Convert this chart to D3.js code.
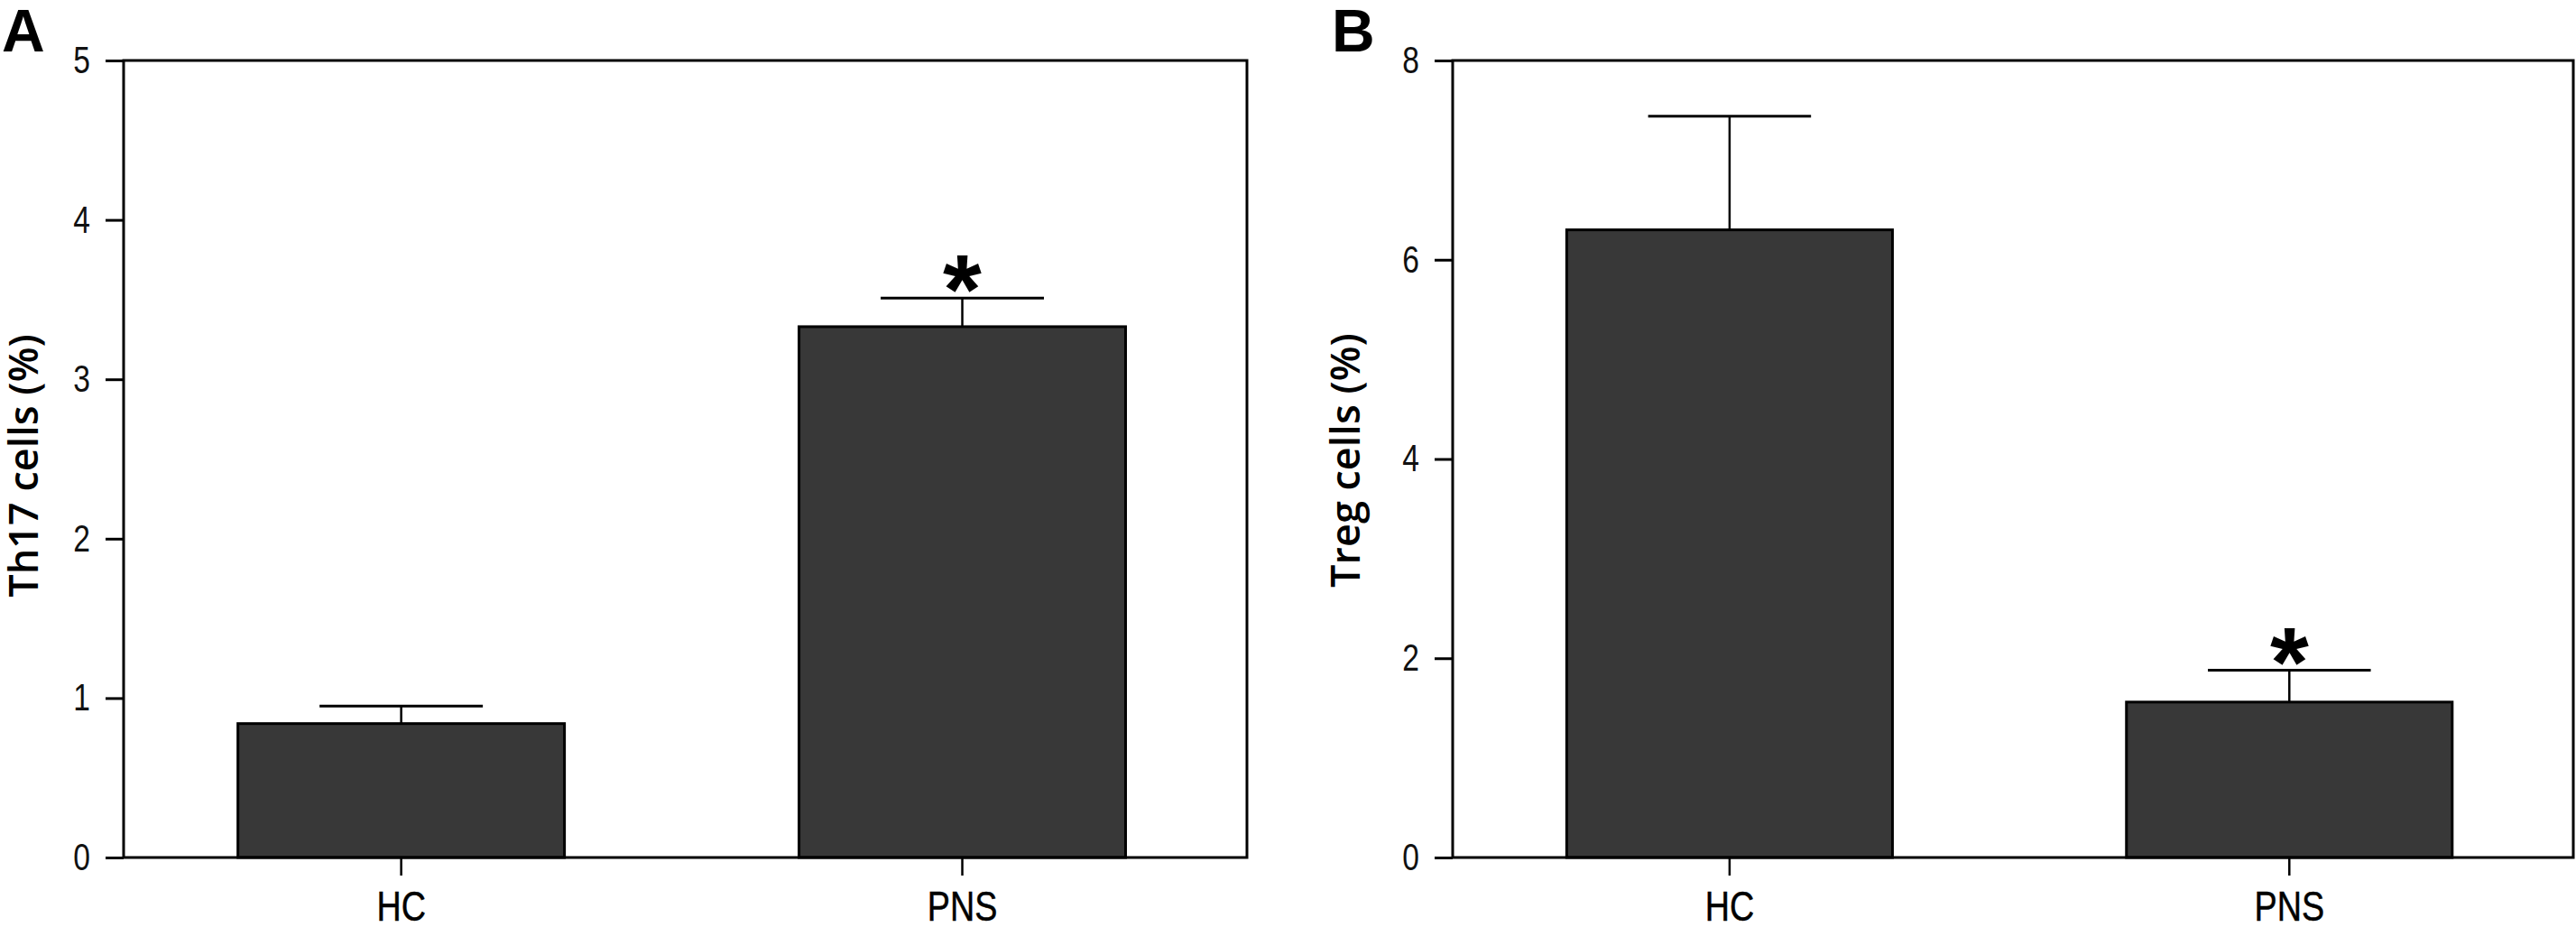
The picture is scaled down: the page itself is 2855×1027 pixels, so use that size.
<!DOCTYPE html>
<html>
<head>
<meta charset="utf-8">
<script src="https://cdn.jsdelivr.net/npm/d3@7"></script>
<style>
  html, body { margin: 0; padding: 0; background: #fff; }
  svg { display: block; }
</style>
</head>
<body>
<svg id="chart" width="2855" height="1027"></svg>
<script>
// ---- data ----
const categories = ["HC", "PNS"];
const th17Means = [0.84, 3.33];
const th17Errors = [0.11, 0.18];
const tregMeans = [6.30, 1.56];
const tregErrors = [1.14, 0.32];
const th17Ticks = [0, 1, 2, 3, 4, 5];
const tregTicks = [0, 2, 4, 6, 8];
const th17Signif = ["", "*"];
const tregSignif = ["", "*"];

const svg = d3.select("#chart");

const panels = [
  { letter: "A", label: "Th17 cells (%)", means: th17Means, errors: th17Errors,
    ticks: th17Ticks, yMax: 5, signif: th17Signif,
    x0: 137, x1: 1382, letterX: 2, labelX: 42, labelY: 516 },
  { letter: "B", label: "Treg cells (%)", means: tregMeans, errors: tregErrors,
    ticks: tregTicks, yMax: 8, signif: tregSignif,
    x0: 1610, x1: 2852, letterX: 1476, labelX: 1507, labelY: 510 }
];

const plotTop = 67, plotBottom = 950;
const yTickSx = 0.8, xTickSx = 0.82;

panels.forEach(p => {
  const g = svg.append("g");
  const x = d3.scaleBand().domain(categories).range([p.x0, p.x1])
    .paddingInner(0.418).paddingOuter(0.21).align(0.485);
  const y = d3.scaleLinear().domain([0, p.yMax]).range([plotBottom, plotTop]);

  const data = categories.map((c, i) => ({ c, m: p.means[i], e: p.errors[i], s: p.signif[i] }));

  // bars
  g.selectAll("rect.bar").data(data).join("rect")
    .attr("class", "bar")
    .attr("x", d => x(d.c))
    .attr("y", d => y(d.m))
    .attr("width", x.bandwidth())
    .attr("height", d => y(0) - y(d.m))
    .attr("fill", "#383838")
    .attr("stroke", "#000")
    .attr("stroke-width", 3);

  // error bars
  const cx = d => x(d.c) + x.bandwidth() / 2;
  const capHalf = x.bandwidth() / 4;
  g.selectAll("line.err").data(data).join("line")
    .attr("class", "err")
    .attr("x1", cx).attr("x2", cx)
    .attr("y1", d => y(d.m)).attr("y2", d => y(d.m + d.e))
    .attr("stroke", "#000").attr("stroke-width", 2.5);
  g.selectAll("line.cap").data(data).join("line")
    .attr("class", "cap")
    .attr("x1", d => cx(d) - capHalf).attr("x2", d => cx(d) + capHalf)
    .attr("y1", d => y(d.m + d.e)).attr("y2", d => y(d.m + d.e))
    .attr("stroke", "#000").attr("stroke-width", 3);

  // significance stars
  g.selectAll("text.sig").data(data.filter(d => d.s)).join("text")
    .attr("class", "sig")
    .attr("x", cx)
    .attr("y", d => y(d.m + d.e) - 18)
    .attr("text-anchor", "middle")
    .attr("font-family", "Liberation Sans, Arial, sans-serif")
    .attr("font-weight", "bold")
    .attr("font-size", 110)
    .attr("dy", "0.42em")
    .text(d => d.s);

  // y axis
  const yAxis = g.append("g")
    .attr("transform", `translate(${p.x0},0)`)
    .call(d3.axisLeft(y).tickValues(p.ticks).tickSize(20).tickPadding(17).tickFormat(d3.format("d")));
  yAxis.select(".domain").remove();
  yAxis.selectAll(".tick line").attr("stroke", "#000").attr("stroke-width", 3);
  yAxis.selectAll(".tick text")
    .attr("font-family", "Liberation Sans, Arial, sans-serif")
    .attr("font-size", 42).attr("fill", "#111")
    .attr("x", -37 / yTickSx)
    .attr("transform", `scale(${yTickSx},1)`);

  // x axis
  const xAxis = g.append("g")
    .attr("transform", `translate(0,${plotBottom})`)
    .call(d3.axisBottom(x).tickSize(20).tickPadding(17));
  xAxis.select(".domain").remove();
  xAxis.selectAll(".tick line").attr("stroke", "#000").attr("stroke-width", 2.5);
  xAxis.selectAll(".tick text")
    .attr("font-family", "Liberation Sans, Arial, sans-serif")
    .attr("font-size", 46).attr("fill", "#000")
    .attr("stroke", "#000").attr("stroke-width", 0.5)
    .attr("transform", `scale(${xTickSx},1)`);

  // box frame
  g.append("rect")
    .attr("x", p.x0).attr("y", plotTop)
    .attr("width", p.x1 - p.x0).attr("height", plotBottom - plotTop)
    .attr("fill", "none").attr("stroke", "#000").attr("stroke-width", 3);

  // y label
  g.append("text")
    .attr("transform", `translate(${p.labelX},${p.labelY}) rotate(-90)`)
    .attr("text-anchor", "middle")
    .attr("font-family", "Open Sans, Noto Sans, sans-serif")
    .attr("font-weight", 600)
    .attr("font-size", 45)
    .attr("fill", "#000")
    .text(p.label);

  // panel letter
  g.append("text")
    .attr("x", p.letterX).attr("y", 57)
    .attr("font-family", "Liberation Sans, Arial, sans-serif")
    .attr("font-weight", "bold")
    .attr("font-size", 66)
    .attr("fill", "#000")
    .text(p.letter);
});
</script>
</body>
</html>
